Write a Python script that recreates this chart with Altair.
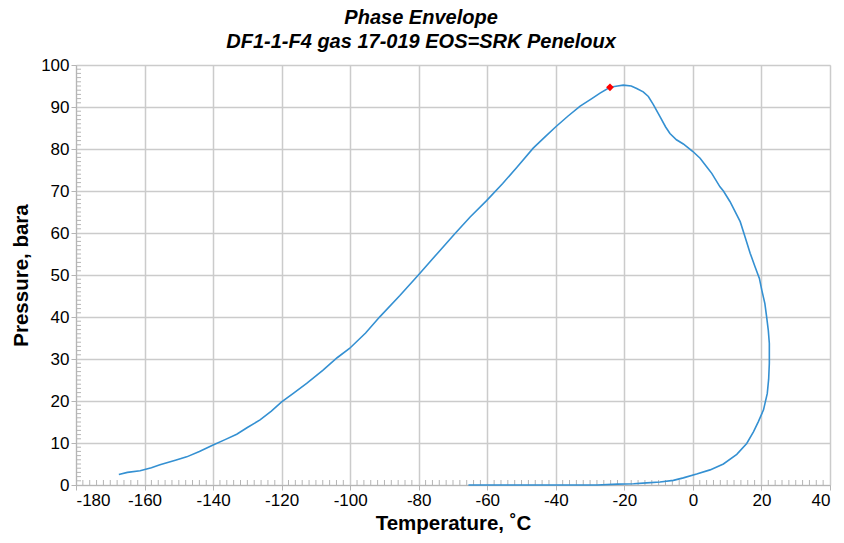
import altair as alt
import pandas as pd

# Phase envelope trace (temperature in °C, pressure in bara), in drawing order
temp_c = [-167.5, -165, -161.3, -158, -155.5, -151, -147.7, -144, -140, -136.5,
          -133.1, -130, -126.3, -123, -120, -116.5, -112.7, -108, -103.8, -100.2,
          -95.5, -91.3, -85.5, -80.1, -74.5, -69.4, -65, -60.2, -55.5, -51.4,
          -46.6, -43, -40, -36.5, -32.9, -29.5, -27.1, -24.2, -22, -20.3,
          -18, -16.4, -14.5, -13, -11.5, -9.6, -8, -6.7, -4.8, -2.8,
          0, 2.1, 4, 5.5, 7.9, 8.9, 10.8, 11.8, 13.8, 15.2,
          16.7, 18.1, 19.4, 20.1, 21, 21.5, 22, 22.3, 22.3, 22.1,
          21.7, 20.6, 19.1, 17.7, 15.7, 12.8, 8.9, 5, 1.1, -2.8,
          -5.7, -9.6, -13.5, -17.3, -22, -28, -40, -50, -65.5]
pressure_bara = [2.5, 3.0, 3.4, 4.1, 4.8, 5.9, 6.7, 8.0, 9.5, 10.8,
                 12.1, 13.7, 15.5, 17.6, 19.8, 21.9, 24.2, 27.3, 30.3, 32.5,
                 36.2, 40.1, 45.1, 50.0, 55.2, 59.9, 63.8, 67.7, 71.8, 75.6,
                 80.2, 83.0, 85.3, 87.8, 90.2, 92.0, 93.3, 94.7, 95.0, 95.2,
                 95.0, 94.4, 93.6, 92.5, 90.5, 87.7, 85.3, 83.7, 82.2, 81.2,
                 79.4, 77.8, 75.8, 74.2, 71.0, 70.0, 67.5, 65.9, 62.7, 59.1,
                 55.2, 52.0, 49.2, 46.4, 43.2, 40.1, 36.8, 33.7, 29.0, 25.2,
                 21.8, 17.9, 15.1, 12.7, 9.9, 7.3, 5.0, 3.6, 2.6, 1.7,
                 1.1, 0.7, 0.5, 0.3, 0.2, 0.0, 0.0, 0.0, 0.0]

# Critical point
crit_temp = [-24.2]
crit_pres = [94.7]

# Axis ticks
x_major = list(range(-180, 41, 20))
y_major = list(range(0, 101, 10))
x_minor = [v for v in range(-180, 41, 2) if v % 20 != 0]
y_minor = [v for v in range(0, 101) if v % 10 != 0]

W, H = 754, 420
FONT = "Liberation Sans"
GRID = "#CBCBCB"
TICK = "#B5B5B5"

env = pd.DataFrame({"T": temp_c, "P": pressure_bara, "i": range(len(temp_c))})
crit = pd.DataFrame({"T": crit_temp, "P": crit_pres})

xs = alt.Scale(domain=[-180, 40], nice=False, zero=False)
ys = alt.Scale(domain=[0, 100], nice=False, zero=False)

common = dict(grid=True, gridColor=GRID, gridWidth=1.5, domainColor=TICK,
              tickColor=TICK, tickSize=5, labelFontSize=17, labelFont=FONT,
              labelColor="#000", labelPadding=2, labelExpr="'' + datum.value",
              titleFont=FONT, titleFontSize=20.5, titleFontWeight="bold",
              titleColor="#000")
x_axis = alt.Axis(values=x_major, title="Temperature, ˚C", titlePadding=5, **common)
y_axis = alt.Axis(values=y_major, title="Pressure, bara", titlePadding=9, **common)

curve = alt.Chart(env).mark_line(color="#3490D2", strokeWidth=1.6).encode(
    x=alt.X("T:Q", scale=xs, axis=x_axis),
    y=alt.Y("P:Q", scale=ys, axis=y_axis),
    order="i:Q",
)

point = alt.Chart(crit).mark_point(shape="diamond", filled=True, color="#FF0000",
                                   size=60, opacity=1).encode(
    x=alt.X("T:Q", scale=xs),
    y=alt.Y("P:Q", scale=ys),
)

# Minor ticks pointing into the plot area
xminor = alt.Chart(pd.DataFrame({"T": x_minor})).mark_rule(
    color=TICK, strokeWidth=1).encode(
    x=alt.X("T:Q", scale=xs), y=alt.value(H), y2=alt.value(H - 5))
yminor = alt.Chart(pd.DataFrame({"P": y_minor})).mark_rule(
    color=TICK, strokeWidth=1).encode(
    y=alt.Y("P:Q", scale=ys), x=alt.value(0), x2=alt.value(5))

chart = alt.layer(xminor, yminor, curve, point).properties(
    width=W, height=H,
    title=alt.TitleParams(
        ["Phase Envelope", "DF1-1-F4 gas 17-019 EOS=SRK Peneloux"],
        font=FONT, fontSize=20, fontWeight="bold", fontStyle="italic",
        color="#000", anchor="middle", frame="bounds", offset=4, lineHeight=24),
    autosize=alt.AutoSizeParams(type="none"),
    padding={"left": 76, "top": 65, "right": 14, "bottom": 58},
).configure_view(stroke=None).configure(background="white")

chart.save("out.html", embed_options={"renderer": "svg", "actions": False})
